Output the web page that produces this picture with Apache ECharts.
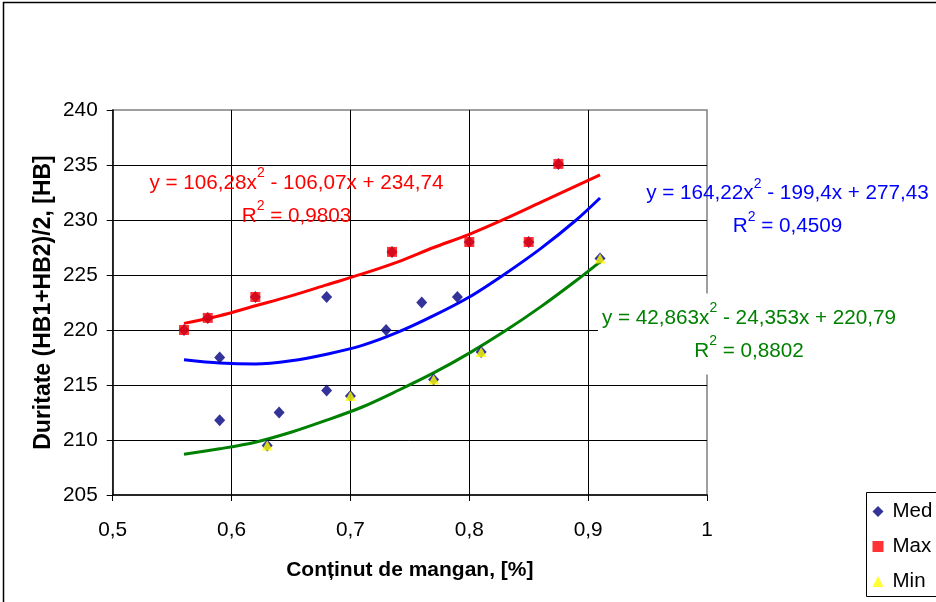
<!DOCTYPE html>
<html><head><meta charset="utf-8">
<script src="https://cdn.jsdelivr.net/npm/echarts@6/dist/echarts.min.js"></script>
<style>html,body{margin:0;padding:0;background:#fff}#c{width:936px;height:602px}</style>
</head><body><div id="c"></div>
<script>
// Observed points
const medX = [0.56, 0.58, 0.59, 0.59, 0.62, 0.63, 0.64, 0.68, 0.68, 0.70, 0.73, 0.735, 0.76, 0.77, 0.79, 0.80, 0.81, 0.85, 0.875, 0.91];
const medY = [220.0, 221.1, 217.5, 211.8, 223.0, 209.5, 212.5, 214.5, 223.0, 214.0, 220.0, 227.1, 222.5, 215.5, 223.0, 228.0, 218.0, 228.0, 235.1, 226.5];
const maxX = [0.56, 0.58, 0.62, 0.735, 0.80, 0.85, 0.875];
const maxY = [220.0, 221.1, 223.0, 227.1, 228.0, 228.0, 235.1];
const minX = [0.63, 0.70, 0.77, 0.81, 0.91];
const minY = [209.5, 214.0, 215.5, 218.0, 226.5];
// Trend curves
const trendX = [0.56, 0.59, 0.62, 0.65, 0.68, 0.71, 0.74, 0.77, 0.80, 0.83, 0.86, 0.89, 0.91];
const trendRed = [220.6, 221.3, 222.2, 223.1, 224.1, 225.1, 226.2, 227.5, 228.7, 230.1, 231.6, 233.1, 234.1];
const trendBlue = [217.3, 217.0, 216.9, 217.2, 217.8, 218.6, 219.8, 221.3, 223.0, 225.1, 227.4, 230.0, 232.0];
const trendGreen = [208.7, 209.2, 209.8, 210.7, 211.8, 213.0, 214.5, 216.1, 217.9, 219.9, 222.1, 224.5, 226.2];
const seriesNames = ['Med', 'Max', 'Min'];
const xTitle = 'Conținut de mangan, [%]';
const yTitle = 'Duritate (HB1+HB2)/2, [HB]';
const eqRed = ['y = 106,28x', '2', ' - 106,07x + 234,74', 'R', '2', ' = 0,9803'];
const eqBlue = ['y = 164,22x', '2', ' - 199,4x + 277,43', 'R', '2', ' = 0,4509'];
const eqGreen = ['y = 42,863x', '2', ' - 24,353x + 220,79', 'R', '2', ' = 0,8802'];

const FONT = "'Liberation Sans', Arial, sans-serif";
const pairs = (xs, ys) => xs.map((x, i) => [x, ys[i]]);
function eqText(p) {
  return '{n|' + p[0] + '}{s|' + p[1] + '}{n|' + p[2] + '}\n{n|' + p[3] + '}{s|' + p[4] + '}{n|' + p[5] + '}';
}
function eqRich(color) {
  return {
    n: { fontSize: 20.7, fontFamily: FONT, fill: color, color: color, lineHeight: 33 },
    s: { fontSize: 14, fontFamily: FONT, fill: color, color: color, lineHeight: 22, verticalAlign: 'top' }
  };
}
function eqGraphic(p, color, cx, cy, bg) {
  const st = {
    text: eqText(p), rich: eqRich(color), fill: color,
    align: 'center', verticalAlign: 'middle', textAlign: 'center', textVerticalAlign: 'middle',
    font: '20.7px ' + FONT
  };
  if (bg) { st.backgroundColor = '#fff'; st.padding = [8, 4, 7, 4]; }
  return { type: 'text', x: cx, y: cy, z: 50, silent: true, style: st };
}

const chart = echarts.init(document.getElementById('c'), null, { renderer: 'canvas' });
const option = {
  animation: false,
  backgroundColor: '#fff',
  textStyle: { fontFamily: FONT },
  grid: { left: 112.7, top: 110, right: 229, bottom: 107, show: true, borderColor: '#808080', borderWidth: 1.5 },
  xAxis: {
    type: 'value', min: 0.5, max: 1, interval: 0.1,
    name: xTitle, nameLocation: 'middle', nameGap: 65,
    nameTextStyle: { fontSize: 21, fontWeight: 'bold', color: '#000', fontFamily: FONT },
    axisLine: { show: true, onZero: false, lineStyle: { color: '#000', width: 1.5 } },
    axisTick: { show: true, length: 6, lineStyle: { color: '#000' } },
    axisLabel: { fontSize: 20.8, color: '#000', margin: 25, fontFamily: FONT,
      formatter: v => String(Math.round(v * 10) / 10).replace('.', ',') },
    splitLine: { show: true, showMinLine: false, showMaxLine: false, lineStyle: { color: '#000', width: 1 } }
  },
  yAxis: {
    type: 'value', min: 205, max: 240, interval: 5,
    name: yTitle, nameLocation: 'middle', nameGap: 58, nameMoveOverlap: false,
    nameTextStyle: { fontSize: 23, fontWeight: 'bold', color: '#000', fontFamily: FONT },
    axisLine: { show: true, onZero: false, lineStyle: { color: '#000', width: 1.5 } },
    axisTick: { show: true, length: 6, lineStyle: { color: '#000' } },
    axisLabel: { fontSize: 20.8, color: '#000', margin: 15, fontFamily: FONT },
    splitLine: { show: true, showMinLine: false, showMaxLine: false, lineStyle: { color: '#000', width: 1 } }
  },
  legend: {
    orient: 'vertical', left: 872.5, top: 501, padding: 0, itemWidth: 11, itemHeight: 11, itemGap: 14,
    textStyle: { fontSize: 20.5, color: '#000', lineHeight: 21, padding: [0, 0, 0, 4], fontFamily: FONT },
    data: [
      { name: seriesNames[0], icon: 'diamond' },
      { name: seriesNames[1], icon: 'rect' },
      { name: seriesNames[2], icon: 'triangle' }
    ]
  },
  series: [
    { name: 'trendMax', type: 'line', data: pairs(trendX, trendRed), smooth: 0.3, showSymbol: false, silent: true, z: 2,
      lineStyle: { color: '#FF0000', width: 3 } },
    { name: 'trendMed', type: 'line', data: pairs(trendX, trendBlue), smooth: 0.3, showSymbol: false, silent: true, z: 2,
      lineStyle: { color: '#0000FF', width: 3 } },
    { name: 'trendMin', type: 'line', data: pairs(trendX, trendGreen), smooth: 0.3, showSymbol: false, silent: true, z: 2,
      lineStyle: { color: '#008000', width: 3 } },
    { name: seriesNames[0], type: 'scatter', data: pairs(medX, medY), symbol: 'diamond', symbolSize: [11, 12], z: 3,
      itemStyle: { color: '#000080' } },
    { name: seriesNames[1], type: 'scatter', data: pairs(maxX, maxY), symbol: 'rect', symbolSize: 10, z: 4,
      itemStyle: { color: '#FF0000' } },
    { name: seriesNames[2], type: 'scatter', data: pairs(minX, minY), symbol: 'triangle', symbolSize: [11, 10], z: 5,
      itemStyle: { color: '#FFFF00' } }
  ],
  graphic: [
    { type: 'rect', silent: true, z: 100, shape: { x: 3.5, y: 2.5, width: 940, height: 610 },
      style: { fill: 'none', stroke: '#000', lineWidth: 1.5 } },
    { type: 'rect', silent: true, z: 100, shape: { x: 866.5, y: 492.5, width: 100, height: 104 },
      style: { fill: 'none', stroke: '#000', lineWidth: 1 } },
    eqGraphic(eqRed, '#FF0000', 296.5, 199.5, false),
    eqGraphic(eqBlue, '#0000FF', 787.5, 210, false),
    eqGraphic(eqGreen, '#008000', 749, 334, true)
  ]
};
chart.setOption(option);
</script></body></html>
